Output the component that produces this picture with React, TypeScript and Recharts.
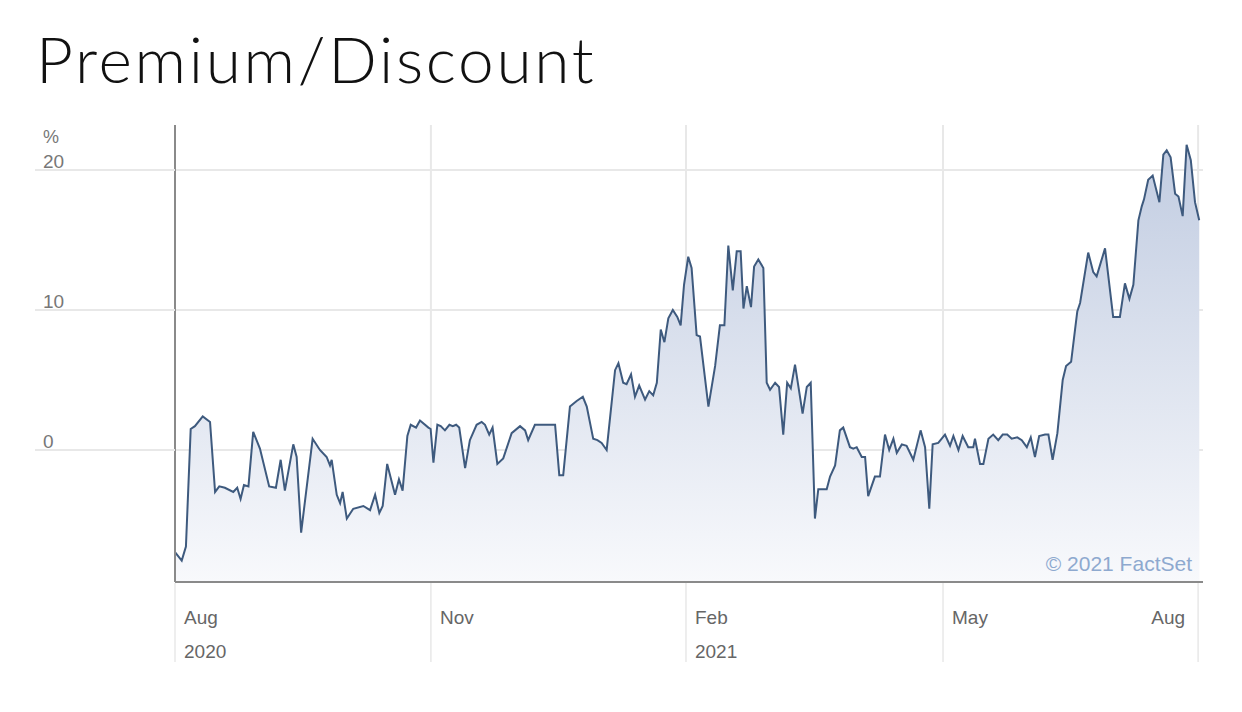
import React from 'react';
import { AreaChart, Area, XAxis, YAxis, CartesianGrid } from 'recharts';

// x: trading-calendar day offset from start of Aug 2020; v: premium/discount in %
const days = [
  0, 2.4, 3.9, 5.6, 7.1, 9.9, 12.5, 14.3, 15.8, 17.8, 20.8, 22.2, 23.4, 24.6, 26.2, 27.9, 30.3, 33.6, 36.0, 37.7,
  39.2, 42.2, 43.4, 45.0, 49.1, 51.7, 54.1, 55.3, 55.9, 57.7, 58.9, 59.8, 61.3, 63.6, 67.2, 69.6, 71.4, 72.9, 74.1, 75.7,
  78.5, 79.9, 81.2, 82.9, 84.1, 86.0, 87.4, 90.4, 91.2, 92.2, 93.6, 94.8, 96.3, 97.9, 99.1, 100.3, 101.4, 103.5, 105.2, 107.6,
  109.4, 110.6, 112.1, 113.3, 115.0, 117.1, 120.1, 123.1, 124.9, 126.0, 128.4, 135.6, 137.1, 138.5, 140.9, 143.3, 145.5, 146.9, 149.2, 150.7,
  152.2, 154.0, 157.0, 158.2, 159.9, 161.1, 162.7, 164.1, 165.6, 167.7, 169.2, 170.6, 171.9, 173.3, 174.6, 176.0, 177.6, 179.2, 180.4, 181.6,
  183.1, 184.3, 186.1, 187.3, 190.3, 192.7, 194.4, 196.0, 197.4, 199.0, 200.4, 201.8, 202.8, 204.0, 205.5, 206.6, 208.1, 209.9, 211.1, 212.3,
  214.1, 215.5, 217.0, 218.4, 219.7, 221.2, 223.9, 225.4, 226.8, 228.3, 229.5, 232.5, 233.7, 235.5, 237.2, 238.4, 240.8, 242.0, 243.2, 245.0,
  246.2, 247.3, 249.7, 251.5, 253.3, 254.8, 256.3, 257.5, 259.3, 261.0, 263.4, 266.0, 267.6, 269.1, 270.3, 272.3, 274.7, 276.5, 277.7, 279.5,
  281.0, 283.0, 284.8, 285.4, 287.2, 288.4, 290.2, 291.9, 293.7, 295.3, 296.9, 298.5, 300.5, 302.1, 303.9, 305.3, 306.8, 308.3, 310.4, 311.6,
  313.1, 314.8, 316.7, 317.9, 319.7, 321.1, 321.9, 322.9, 325.8, 327.6, 328.8, 331.8, 334.7, 337.1, 338.9, 340.5, 341.9, 343.7, 344.9, 345.7,
  347.2, 348.8, 351.2, 352.6, 353.8, 355.2, 356.8, 358.0, 359.5, 360.9, 362.4, 363.9, 365.4,
];

const values = [
  -7.3, -7.9, -6.9, 1.5, 1.7, 2.4, 2.0, -3.0, -2.6, -2.7, -3.0, -2.7, -3.5, -2.5, -2.6, 1.3, 0.1, -2.6, -2.7, -0.7,
  -2.9, 0.4, -0.5, -5.9, 0.8, 0.0, -0.5, -1.1, -0.7, -3.2, -3.8, -3.0, -4.9, -4.2, -4.0, -4.3, -3.2, -4.5, -4.0, -1.0,
  -3.2, -2.1, -2.9, 1.0, 1.8, 1.6, 2.1, 1.6, 1.5, -0.9, 1.8, 1.7, 1.4, 1.8, 1.7, 1.8, 1.6, -1.3, 0.7, 1.8,
  2.0, 1.8, 1.1, 1.6, -1.0, -0.6, 1.2, 1.7, 1.4, 0.7, 1.8, 1.8, -1.8, -1.8, 3.1, 3.5, 3.8, 3.1, 0.8, 0.7,
  0.5, 0.0, 5.7, 6.2, 4.8, 4.7, 5.4, 3.8, 4.6, 3.6, 4.2, 3.9, 4.8, 8.6, 7.7, 9.4, 10.0, 9.5, 8.9, 11.8,
  13.8, 13.0, 8.2, 8.1, 3.1, 6.0, 8.9, 8.9, 14.6, 11.4, 14.2, 14.2, 10.1, 11.7, 10.2, 13.1, 13.6, 13.0, 4.8, 4.3,
  4.8, 4.5, 1.1, 4.8, 4.4, 6.1, 2.6, 4.5, 4.8, -4.9, -2.8, -2.8, -1.9, -1.1, 1.4, 1.6, 0.2, 0.1, 0.2, -0.5,
  -0.5, -3.3, -1.9, -1.9, 1.1, 0.0, 0.8, -0.2, 0.4, 0.3, -0.7, 1.4, 0.2, -4.2, 0.4, 0.5, 1.1, 0.3, 1.0, 0.0,
  1.0, 0.2, 0.2, 0.8, -1.0, -1.0, 0.8, 1.1, 0.7, 1.1, 1.1, 0.8, 0.9, 0.7, 0.2, 0.9, -0.5, 1.0, 1.1, 1.1,
  -0.7, 1.2, 5.0, 6.0, 6.3, 8.6, 9.9, 10.5, 14.1, 12.7, 12.4, 14.4, 9.5, 9.5, 11.9, 10.8, 11.8, 16.4, 17.4, 17.9,
  19.3, 19.6, 17.7, 21.1, 21.4, 20.9, 18.3, 18.1, 16.7, 21.8, 20.7, 17.7, 16.4,
];

const tickDays = [0, 91.3, 182.3, 274, 365];
const monthLabels = ['Aug', 'Nov', 'Feb', 'May', 'Aug'];
const yearLabels = ['2020', '', '2021', '', ''];
const yTicks = [0, 10, 20];

const data = days.map((d, i) => ({ d, v: values[i] }));

const W = 1242;
const H = 712;
const PLOT_LEFT = 175;
const PLOT_TOP = 125;
const PLOT_BOTTOM = 582;
const X_AXIS_H = 80;
const Y_AXIS_W = 1;
const FONT = '"Liberation Sans", Arial, Helvetica, sans-serif';

const XTick = (props: any) => {
  const { x, index } = props;
  const isLast = index === tickDays.length - 1;
  return (
    <g>
      <line x1={x} x2={x} y1={PLOT_BOTTOM + 1} y2={662} stroke="#e8e8e8" strokeWidth={1.5} />
      <text
        x={isLast ? x - 13 : x + 9}
        y={624}
        textAnchor={isLast ? 'end' : 'start'}
        fontFamily={FONT}
        fontSize={19}
        fill="#666"
      >
        {monthLabels[index]}
      </text>
      {yearLabels[index] ? (
        <text x={x + 9} y={658} textAnchor="start" fontFamily={FONT} fontSize={19} fill="#666">
          {yearLabels[index]}
        </text>
      ) : null}
    </g>
  );
};

const YTick = (props: any) => {
  const { y, payload } = props;
  return (
    <g>
      <line x1={35} x2={PLOT_LEFT} y1={y} y2={y} stroke="#e8e8e8" strokeWidth={2} />
      <text x={43} y={y - 2} textAnchor="start" fontFamily={FONT} fontSize={19} fill="#777">
        {payload.value}
      </text>
      {payload.value === 20 ? (
        <text x={43} y={y - 27} textAnchor="start" fontFamily={FONT} fontSize={18} fill="#777">
          %
        </text>
      ) : null}
    </g>
  );
};

const scaleOf = (axis: any) => {
  const s = axis && axis.scale;
  if (typeof s === 'function') return s;
  if (s && typeof s.map === 'function') return (v: number) => s.map(v);
  return null;
};

export default function App() {
  return (
    <div style={{ position: 'absolute', left: 0, top: 0, width: W, height: H, background: '#fff', overflow: 'hidden' }}>
      <div
        style={{
          position: 'absolute',
          left: 36,
          top: 27,
          fontFamily: 'Lato, "Open Sans", sans-serif',
          fontWeight: 300,
          fontSize: 64,
          lineHeight: '64px',
          color: '#111',
          whiteSpace: 'nowrap',
          letterSpacing: 2.7,
        }}
      >
        Premium/Discount
      </div>
      <div style={{ position: 'absolute', left: 0, top: 0 }}>
        <AreaChart
          width={W}
          height={H}
          data={data}
          margin={{ top: PLOT_TOP, right: W - 1203, bottom: H - PLOT_BOTTOM - X_AXIS_H, left: PLOT_LEFT - Y_AXIS_W }}
        >
          <defs>
            <linearGradient id="pdFill" x1="0" y1="0" x2="0" y2="1">
              <stop offset="0%" stopColor="#c1cce1" />
              <stop offset="100%" stopColor="#f8f9fc" />
            </linearGradient>
          </defs>
          <CartesianGrid
            stroke="#e8e8e8"
            strokeWidth={2}
            horizontalCoordinatesGenerator={(p: any) => {
              const s = scaleOf(p.yAxis);
              return s ? yTicks.map((t) => s(t)) : [];
            }}
            verticalCoordinatesGenerator={(p: any) => {
              const s = scaleOf(p.xAxis);
              return s ? tickDays.map((t) => s(t)) : [];
            }}
          />
          <XAxis
            type="number"
            dataKey="d"
            domain={[0, 366.75]}
            ticks={tickDays}
            allowDataOverflow
            height={X_AXIS_H}
            tickLine={false}
            axisLine={{ stroke: '#8a8a8a', strokeWidth: 2 }}
            tick={<XTick />}
            interval={0}
          />
          <YAxis
            type="number"
            domain={[-9.43, 23.21]}
            ticks={yTicks}
            allowDataOverflow
            width={Y_AXIS_W}
            tickLine={false}
            axisLine={{ stroke: '#8a8a8a', strokeWidth: 2 }}
            tick={<YTick />}
            interval={0}
          />
          <Area
            type="linear"
            dataKey="v"
            baseValue="dataMin"
            stroke="#3e5a7e"
            strokeWidth={2}
            fill="url(#pdFill)"
            fillOpacity={1}
            isAnimationActive={false}
            dot={false}
            activeDot={false}
          />
        </AreaChart>
      </div>
      <div
        style={{
          position: 'absolute',
          right: W - 1192,
          top: 553,
          fontFamily: FONT,
          fontSize: 21,
          lineHeight: '21px',
          color: '#8ea9cf',
          whiteSpace: 'nowrap',
        }}
      >
        © 2021 FactSet
      </div>
    </div>
  );
}
